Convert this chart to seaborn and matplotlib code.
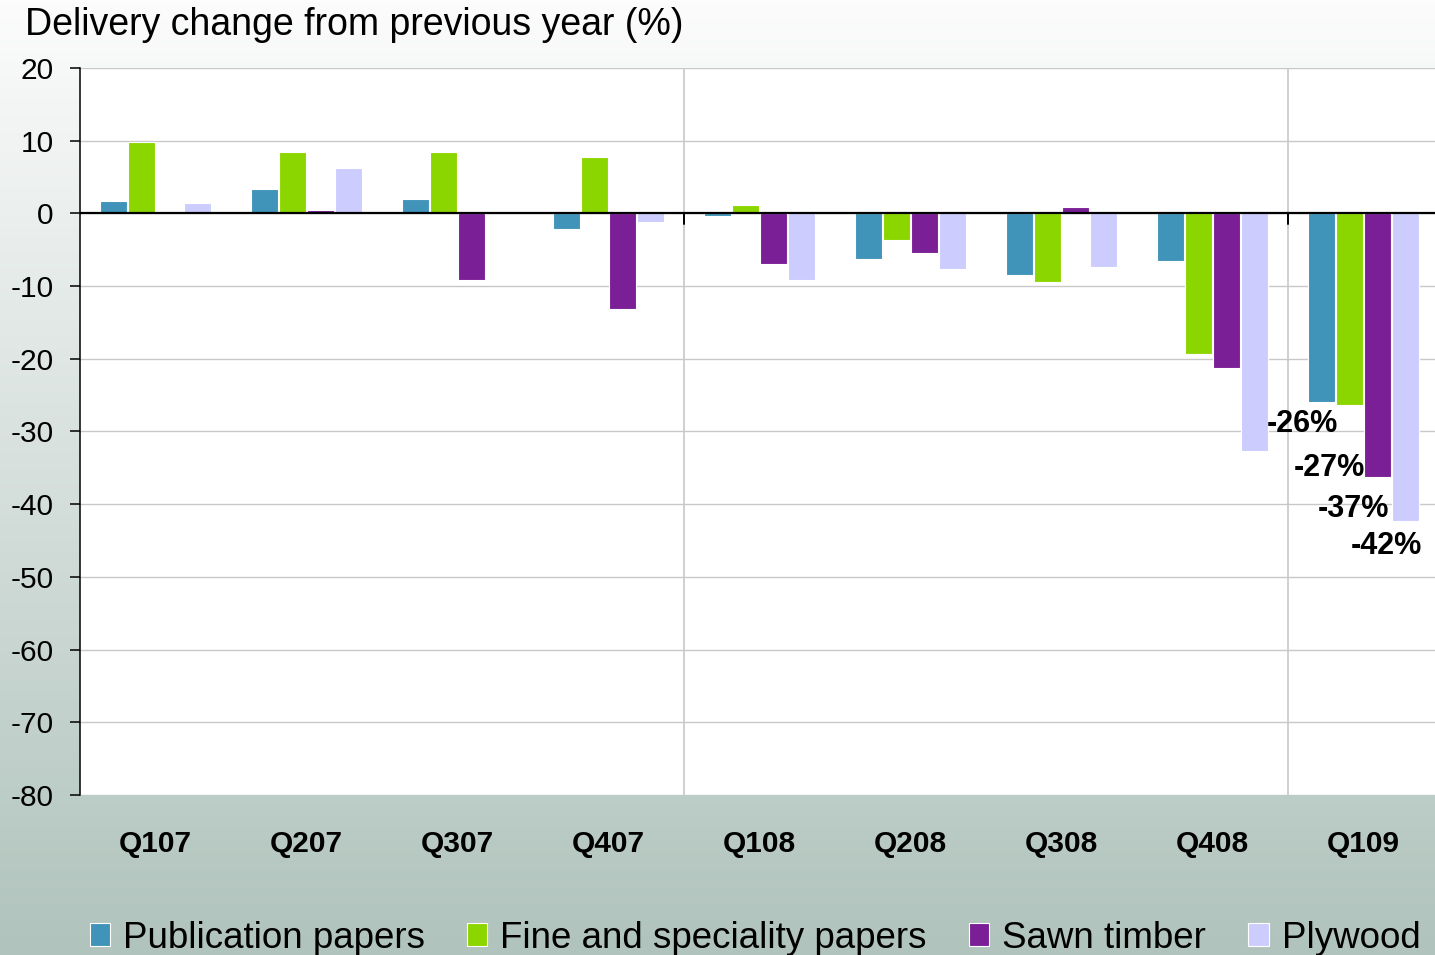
import numpy as np
import pandas as pd
import matplotlib
matplotlib.use("Agg")
import matplotlib.pyplot as plt
import seaborn as sns

# --- Data ---
quarters = ["Q107", "Q207", "Q307", "Q407", "Q108", "Q208", "Q308", "Q408", "Q109"]
products = ["Publication papers", "Fine and speciality papers", "Sawn timber", "Plywood"]

publication = [1.7, 3.3, 2.0, -2.1, -0.4, -6.3, -8.5, -6.6, -25.9]
fine_papers = [9.8, 8.5, 8.5, 7.7, 1.1, -3.7, -9.4, -19.4, -26.4]
sawn_timber = [0.0, 0.4, -9.1, -13.2, -6.9, -5.5, 0.9, -21.3, -36.3]
plywood = [1.4, 6.3, 0.0, -1.2, -9.1, -7.7, -7.4, -32.7, -42.3]

last_labels = ["-26%", "-27%", "-37%", "-42%"]

colors = {
    "Publication papers": "#4094b9",
    "Fine and speciality papers": "#8cd600",
    "Sawn timber": "#7b1f96",
    "Plywood": "#ccccff",
}

df = pd.DataFrame({
    "quarter": quarters * 4,
    "product": np.repeat(products, len(quarters)),
    "change": publication + fine_papers + sawn_timber + plywood,
})

# --- Figure ---
sns.set_theme(style="white")
plt.rcParams["font.family"] = ["Liberation Sans", "DejaVu Sans"]
plt.rcParams["axes.unicode_minus"] = False
plt.rcParams["text.color"] = "black"
plt.rcParams["xtick.color"] = "black"
plt.rcParams["ytick.color"] = "black"
plt.rcParams["xtick.labelcolor"] = "black"
plt.rcParams["ytick.labelcolor"] = "black"

fig = plt.figure(figsize=(14.35, 9.55), dpi=100)

# gradient background: near white at top, grey-green at the bottom
top_rgb = np.array([252, 252, 252]) / 255
bot_rgb = np.array([176, 195, 188]) / 255
t = np.linspace(0, 1, 256)[:, None]
grad = (top_rgb * (1 - t) + bot_rgb * t)[:, None, :]
bg = fig.add_axes([0, 0, 1, 1], zorder=-10)
bg.imshow(grad, aspect="auto", extent=[0, 1, 0, 1])
bg.axis("off")

# plot area runs a few pixels past the right edge, as in the original
ax = fig.add_axes([80 / 1435, 160 / 955, 1359 / 1435, 727 / 955])
ax.set_facecolor("white")

sns.barplot(
    data=df, x="quarter", y="change", hue="product",
    order=quarters, hue_order=products, palette=colors,
    width=0.74, gap=0.06, saturation=1,
    edgecolor="white", linewidth=0.8, ax=ax,
)

ax.set_ylim(-80, 20)
ax.set_xlim(-0.5, len(quarters) - 0.5)
ax.set_yticks(range(-80, 21, 10))
ax.set_xlabel("")
ax.set_ylabel("")

ax.yaxis.grid(True, color="#c8c8c8", linewidth=1.0)
ax.set_axisbelow(True)
for xv in [3.5, 7.5]:
    ax.axvline(xv, color="#c8c8c8", linewidth=1.2, zorder=0)

ax.axhline(0, color="black", linewidth=1.6, zorder=4)
# small year-boundary ticks hanging off the zero line
for xv in [3.5, 7.5]:
    ax.plot([xv, xv], [0, -1.5], color="black", linewidth=1.4, zorder=4)

for side in ["top", "right", "bottom"]:
    ax.spines[side].set_visible(False)
ax.spines["left"].set_color("black")
ax.spines["left"].set_linewidth(1.1)

ax.tick_params(axis="y", which="major", left=True, length=7, width=1.1,
               color="black", labelcolor="black", labelsize=21.5, pad=12)
ax.tick_params(axis="x", length=0, labelcolor="black", labelsize=21.5, pad=25)
for lbl in ax.get_xticklabels():
    lbl.set_fontweight("bold")

# value labels on the last quarter
offsets = [(-19, -22), (-20, -63), (-24, -32), (-19, -25)]
for cont, text, off in zip(ax.containers, last_labels, offsets):
    bar = max(cont.patches, key=lambda p: p.get_x())
    x = bar.get_x() + bar.get_width() / 2
    y = bar.get_y() + bar.get_height()
    ax.annotate(text, (x, y), xytext=off, textcoords="offset pixels",
                ha="center", va="center", fontsize=22, fontweight="bold",
                color="black", annotation_clip=False, zorder=6)

# legend along the bottom
handles, labels = ax.get_legend_handles_labels()
ax.get_legend().remove()
leg = fig.legend(
    handles, labels, loc="center", bbox_to_anchor=(755 / 1435, 17 / 955),
    ncol=4, frameon=False, fontsize=26.5,
    handlelength=0.55, handleheight=0.55, handletextpad=0.35,
    columnspacing=1.15,
)
for txt in leg.get_texts():
    txt.set_color("black")

fig.text(25 / 1435, 1 - 25 / 955, "Delivery change from previous year (%)",
         fontsize=27, ha="left", va="center", color="black")

fig.savefig("out.png", dpi=100)
